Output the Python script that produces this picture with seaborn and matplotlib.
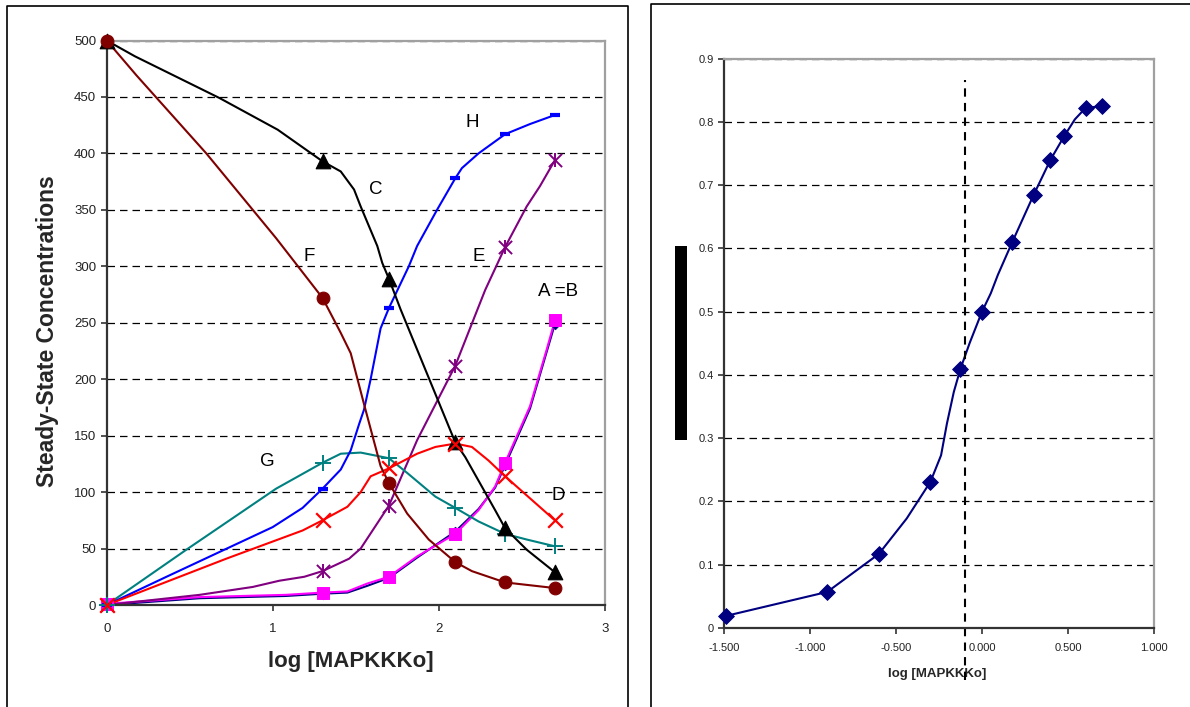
import numpy as np
import pandas as pd
import matplotlib.pyplot as plt
import seaborn as sns
from matplotlib.patches import Rectangle
from matplotlib.lines import Line2D

sns.set_theme(style="white")
plt.rcParams['font.family'] = ['Liberation Sans', 'DejaVu Sans']

# ------------------------------------------
# Left chart: marker points (log [MAPKKKo])
# ------------------------------------------
log_pts = [0, 1.3, 1.7, 2.1, 2.4, 2.7]

A_pts = [0, 10, 24, 65, 124, 249]
B_pts = [1, 11, 25, 63, 126, 252]
C_pts = [500, 393, 289, 144, 68, 29]
D_pts = [0, 75, 121, 143, 114, 75]
E_pts = [0, 30, 88, 212, 317, 394]
F_pts = [500, 272, 108, 38, 20, 15]
G_pts = [0, 126, 130, 86, 63, 52]
H_pts = [0, 103, 263, 378, 417, 434]

# curve vertices
C_x = [0, 0.17, 0.68, 1.03, 1.30, 1.41, 1.49, 1.53, 1.63, 1.66, 1.70, 1.77, 2.10, 2.16, 2.34, 2.40, 2.53, 2.70]
C_y = [500, 486, 449, 421, 393, 384, 368, 353, 318, 303, 289, 262, 144, 131, 84, 68, 49, 29]

F_x = [0, 0.18, 0.60, 1.02, 1.30, 1.41, 1.47, 1.55, 1.65, 1.70, 1.81, 1.94, 2.10, 2.20, 2.40, 2.70]
F_y = [500, 469, 400, 325, 272, 241, 223, 178, 123, 108, 81, 58, 38, 30, 20, 15]

H_x = [0, 0.36, 1.00, 1.18, 1.30, 1.41, 1.47, 1.52, 1.55, 1.59, 1.65, 1.70, 1.82, 1.87, 1.99, 2.10, 2.14, 2.24, 2.40, 2.55, 2.70]
H_y = [0, 25, 69, 86, 103, 120, 137, 160, 173, 200, 245, 263, 300, 318, 350, 378, 387, 400, 417, 426, 434]

E_x = [0, 0.56, 0.88, 1.04, 1.19, 1.30, 1.46, 1.53, 1.70, 1.87, 2.10, 2.21, 2.28, 2.40, 2.53, 2.61, 2.70]
E_y = [0, 9, 16, 21.5, 25, 30, 41, 50, 88, 146, 212, 253, 279, 317, 353, 371, 394]

D_x = [0, 0.72, 1.18, 1.30, 1.45, 1.53, 1.59, 1.70, 1.87, 1.98, 2.10, 2.20, 2.30, 2.40, 2.70]
D_y = [0, 41, 66, 75, 87, 100, 114, 121, 134, 140, 143, 140, 128, 114, 75]

G_x = [0, 0.48, 1.02, 1.30, 1.41, 1.53, 1.70, 1.81, 1.98, 2.10, 2.24, 2.40, 2.53, 2.70]
G_y = [0, 49, 103, 126, 134, 135, 130, 117, 96, 86, 74, 63, 58, 52]

AB_x = [0, 0.56, 1.08, 1.30, 1.45, 1.57, 1.70, 1.87, 2.10, 2.24, 2.34, 2.40, 2.55, 2.65, 2.70]
A_y = [0, 6, 8, 10, 11, 17, 24, 42, 65, 85, 104, 124, 174, 224, 249]
B_y = [1, 7, 9, 11, 12, 19, 25, 43, 63, 84, 105, 126, 176, 226, 252]

curve_labels = ["H", "C", "F", "E", "A =B", "G", "D"]
label_x = [2.20, 1.62, 1.22, 2.24, 2.72, 0.97, 2.72]
label_y = [427, 368, 309, 309, 278, 127, 97]

# ------------------------------------------
# Right chart
# ------------------------------------------
R_pts_x = [-1.49, -0.90, -0.60, -0.30, -0.125, 0.0, 0.176, 0.301, 0.398, 0.477, 0.602, 0.699]
R_pts_y = [0.019, 0.057, 0.117, 0.231, 0.410, 0.500, 0.610, 0.685, 0.740, 0.777, 0.822, 0.825]

R_line_x = [-1.49, -0.90, -0.765, -0.60, -0.438, -0.30, -0.238, -0.204, -0.164, -0.125, -0.071,
            0.0, 0.051, 0.092, 0.176, 0.301, 0.398, 0.477, 0.54, 0.602, 0.699]
R_line_y = [0.019, 0.057, 0.084, 0.117, 0.173, 0.231, 0.273, 0.323, 0.373, 0.410, 0.451,
            0.500, 0.529, 0.558, 0.610, 0.685, 0.740, 0.777, 0.804, 0.822, 0.825]

vline_x = -0.10
vline_y = [-0.082, 0.866]

# ------------------------------------------
# Figure
# ------------------------------------------
fig = plt.figure(figsize=(11.9, 7.07), dpi=100)
ax1 = fig.add_axes([106.7 / 1190, 1 - 605 / 707, 498 / 1190, 564.5 / 707])
ax2 = fig.add_axes([724 / 1190, 1 - 628 / 707, 430 / 1190, 569.4 / 707])


def style_axes(ax):
    ax.set_facecolor("white")
    for s in ["left", "bottom"]:
        ax.spines[s].set_color("#333333")
        ax.spines[s].set_linewidth(1.6)
    for s in ["top", "right"]:
        ax.spines[s].set_color("#a0a0a0")
        ax.spines[s].set_linewidth(1.6)
    ax.tick_params(axis="both", direction="out", length=4, width=1.2, color="#333333",
                   left=True, bottom=True, labelcolor="#222222")
    ax.yaxis.grid(True, linestyle=(0, (6, 4)), color="black", linewidth=0.9)
    ax.xaxis.grid(False)
    ax.set_axisbelow(True)


# ---- left
style_axes(ax1)
lw = 1.5
sns.lineplot(x=AB_x, y=A_y, color="#000080", lw=lw, sort=False, estimator=None, ax=ax1)
sns.lineplot(x=AB_x, y=B_y, color="#ff00ff", lw=lw, sort=False, estimator=None, ax=ax1)
sns.lineplot(x=E_x, y=E_y, color="#800080", lw=lw, sort=False, estimator=None, ax=ax1)
sns.lineplot(x=G_x, y=G_y, color="#008080", lw=lw, sort=False, estimator=None, ax=ax1)
sns.lineplot(x=H_x, y=H_y, color="#0000ff", lw=lw, sort=False, estimator=None, ax=ax1)
sns.lineplot(x=C_x, y=C_y, color="black", lw=lw, sort=False, estimator=None, ax=ax1)
sns.lineplot(x=D_x, y=D_y, color="#ff0000", lw=lw, sort=False, estimator=None, ax=ax1)
sns.lineplot(x=F_x, y=F_y, color="#800000", lw=lw, sort=False, estimator=None, ax=ax1)

sns.scatterplot(x=log_pts, y=A_pts, marker="D", s=30, color="#000080", edgecolor="#000080", ax=ax1, clip_on=False, zorder=4)
sns.scatterplot(x=log_pts, y=B_pts, marker="s", s=75, color="#ff00ff", edgecolor="#ff00ff", ax=ax1, clip_on=False, zorder=5)
sns.scatterplot(x=log_pts, y=H_pts, marker="_", s=60, color="#0000ff", linewidth=3, ax=ax1, clip_on=False, zorder=5)
sns.scatterplot(x=log_pts, y=E_pts, marker="x", s=90, color="#800080", linewidth=1.4, ax=ax1, clip_on=False, zorder=5)
sns.scatterplot(x=log_pts, y=E_pts, marker="|", s=110, color="#800080", linewidth=1.4, ax=ax1, clip_on=False, zorder=5)
sns.scatterplot(x=log_pts, y=G_pts, marker="+", s=120, color="#008080", linewidth=1.4, ax=ax1, clip_on=False, zorder=5)
sns.scatterplot(x=log_pts, y=C_pts, marker="^", s=110, color="black", edgecolor="black", ax=ax1, clip_on=False, zorder=5)
sns.scatterplot(x=log_pts, y=D_pts, marker="x", s=110, color="#ff0000", linewidth=1.6, ax=ax1, clip_on=False, zorder=6)
sns.scatterplot(x=log_pts, y=F_pts, marker="o", s=85, color="#800000", edgecolor="#800000", ax=ax1, clip_on=False, zorder=6)

for t, x, y in zip(curve_labels, label_x, label_y):
    ax1.text(x, y, t, fontsize=13.5, ha="center", va="center", color="black")

ax1.set_xlim(0, 3)
ax1.set_ylim(0, 500)
ax1.set_xticks([0, 1, 2, 3])
ax1.set_yticks(np.arange(0, 501, 50))
ax1.tick_params(axis="both", labelsize=9.5)
ax1.tick_params(axis="x", pad=9)
ax1.set_xlabel("log [MAPKKKo]", fontsize=16, fontweight="bold")
ax1.set_ylabel("Steady-State Concentrations", fontsize=16.5, fontweight="bold")
ax1.xaxis.set_label_coords(0.49, -0.082)
ax1.yaxis.set_label_coords(-0.095, 0.485)

# ---- right
style_axes(ax2)
sns.lineplot(x=R_line_x, y=R_line_y, color="#000080", lw=1.5, sort=False, estimator=None, ax=ax2)
sns.scatterplot(x=R_pts_x, y=R_pts_y, marker="D", s=65, color="#000080", edgecolor="#000080", ax=ax2, clip_on=False, zorder=5)
ax2.plot([vline_x, vline_x], vline_y, color="black", lw=1.5, linestyle=(0, (4, 3)), clip_on=False)

ax2.set_xlim(-1.5, 1.0)
ax2.set_ylim(0, 0.9)
ax2.set_xticks(np.arange(-1.5, 1.01, 0.5))
ax2.set_xticklabels([f"{v:.3f}" for v in np.arange(-1.5, 1.01, 0.5)])
ax2.set_yticks(np.arange(0, 0.91, 0.1))
ax2.set_yticklabels(["0"] + [f"{v:.1f}" for v in np.arange(0.1, 0.91, 0.1)])
ax2.tick_params(axis="both", labelsize=8)
ax2.tick_params(axis="x", pad=7)
ax2.set_xlabel("log [MAPKKKo]", fontsize=9.5, fontweight="bold")
ax2.xaxis.set_label_coords(0.4965, -0.07)

# panel frames and the black bar
fig.add_artist(Line2D([6.5 / 1190, 6.5 / 1190, 628 / 1190, 628 / 1190],
                      [-0.01, 1 - 5.5 / 707, 1 - 5.5 / 707, -0.01],
                      color="black", lw=1.2, transform=fig.transFigure))
fig.add_artist(Line2D([651 / 1190, 651 / 1190, 1.01],
                      [-0.01, 1 - 3.5 / 707, 1 - 3.5 / 707],
                      color="black", lw=1.2, transform=fig.transFigure))
fig.add_artist(Rectangle((675 / 1190, 1 - 440 / 707), 12 / 1190, 194 / 707,
                         facecolor="black", edgecolor="none", transform=fig.transFigure))

fig.savefig("out.png", dpi=100)
